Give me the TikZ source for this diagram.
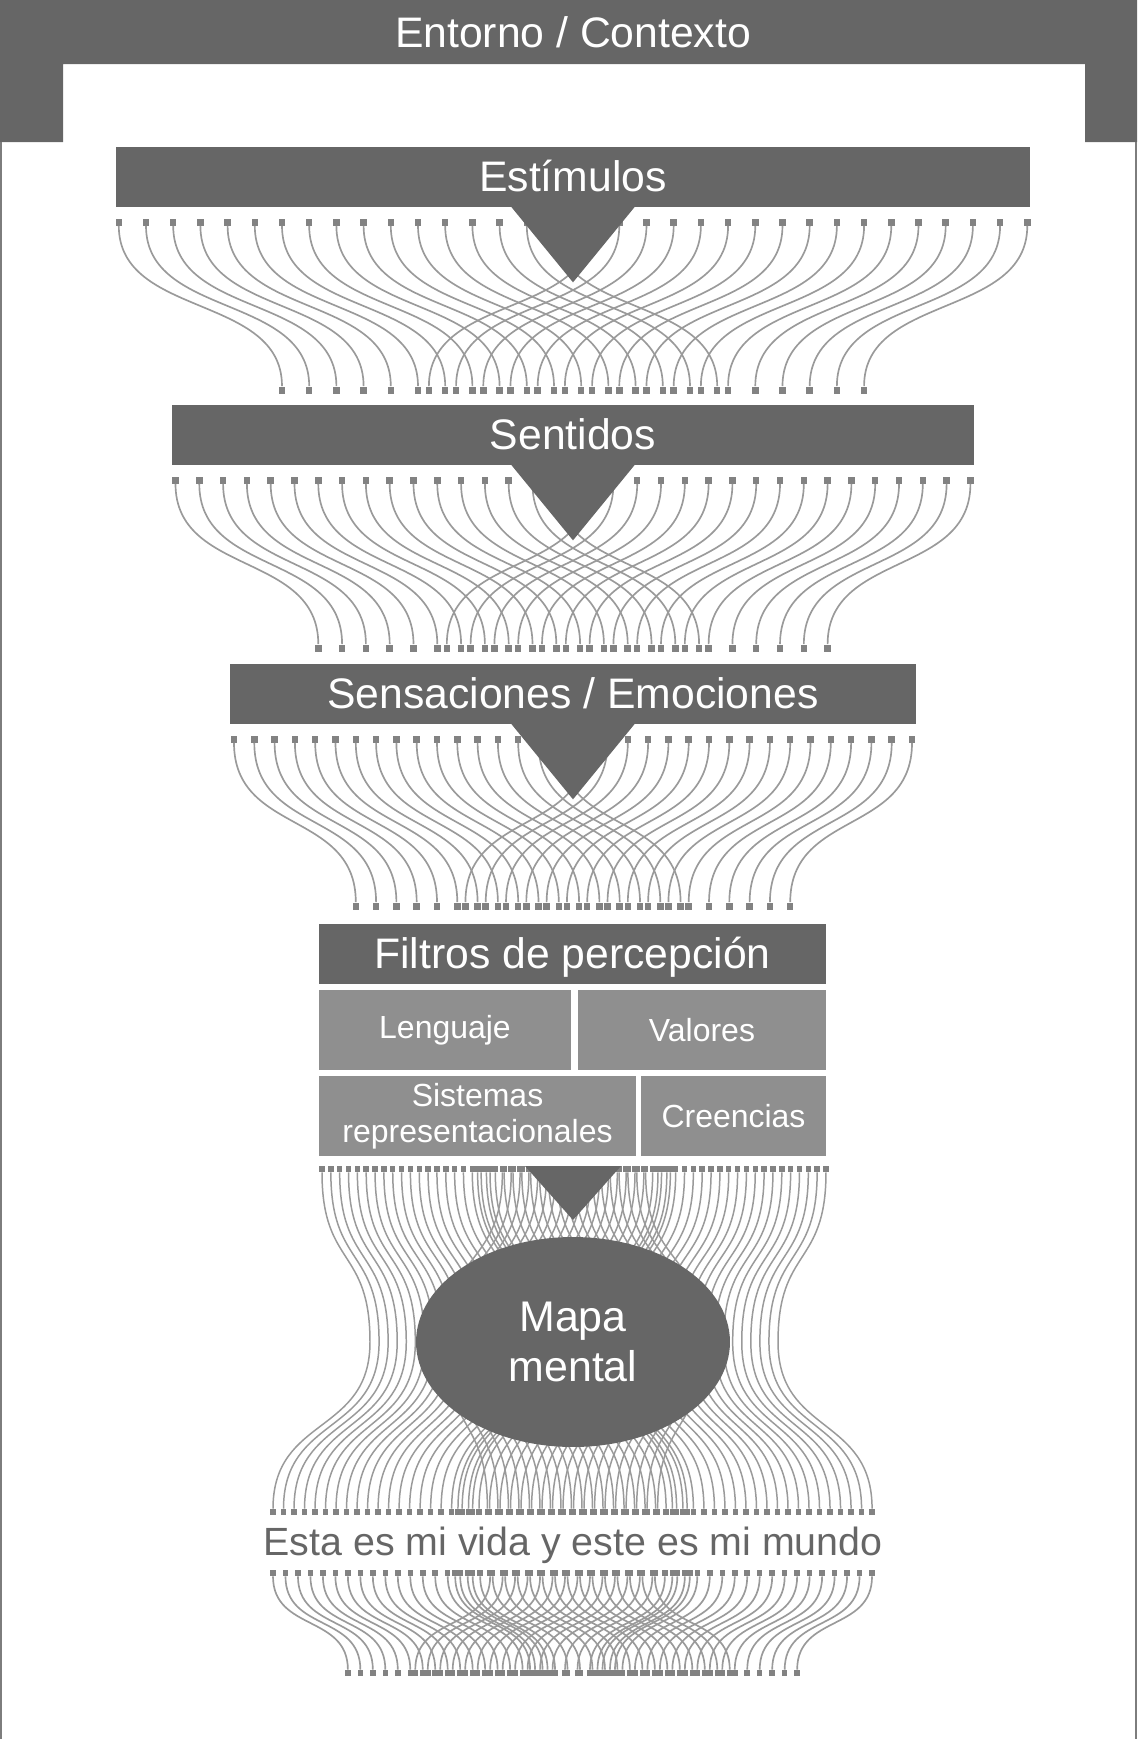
\documentclass[tikz,border=0pt]{standalone}
\usepackage{fontspec}
\setmainfont{Liberation Sans}
\usetikzlibrary{shapes.geometric}
\definecolor{bardark}{RGB}{102,102,102}
\definecolor{boxmid}{RGB}{143,143,143}
\definecolor{wiregrey}{RGB}{154,154,154}
\definecolor{termgrey}{RGB}{130,130,130}
\tikzset{
  titletext/.style={text=white, inner sep=0pt, text height=0.77cm, text depth=0.18cm,
                    font=\fontsize{24.3}{29}\selectfont},
  titlebar/.style={titletext, rectangle, fill=bardark, minimum height=1.2cm},
  subbox/.style={rectangle, fill=boxmid, text=white, inner sep=0pt, minimum height=1.6cm,
                 align=center, font=\fontsize{18.2}{20.3}\selectfont},
  term/.style={rectangle, fill=termgrey, inner sep=0pt, minimum width=1.3mm, minimum height=1.4mm},
  termsm/.style={term, minimum width=1.1mm, minimum height=1.2mm},
  wire/.style={draw=wiregrey, line width=0.95pt},
  wiresm/.style={wire, line width=0.85pt},
  rim/.style={draw=bardark!85, line width=1.1pt},
}
% one fan of 2x17 wires: name, first top x, step, top y, bottom y, copies (index/offset), terminal style
\newcommand{\fanbundle}[7]{%
  \foreach \c/\off in {#6}{
    \foreach \k in {0,...,33}{
      \pgfmathsetmacro{\rr}{(\k<17 ? \k : \k+0.4)+\off}
      \pgfmathsetmacro{\sh}{\k<17 ? 6 : -6}
      \node[#7] (#1-\c-\k-t) at ({#2+\rr*#3},#4) {};
      \node[#7] (#1-\c-\k-b) at ({#2+(\rr+\sh)*#3},#5) {};
      \draw[wire] (#1-\c-\k-t.south) .. controls +(0,{0.55*(#5-#4)}) and +(0,{-0.55*(#5-#4)}) .. (#1-\c-\k-b.north);
    }
  }
}

\begin{document}
\begin{tikzpicture}[x=0.02cm,y=-0.02cm]
\useasboundingbox (0,0) rectangle (1137,1739);

% frame
\fill[bardark] (0,0) -- (1137,0) -- (1137,142) -- (1085,142) -- (1085,64) -- (63,64) -- (63,142) -- (0,142) -- cycle;
\draw[rim] (1,142) -- (1,1739);
\draw[rim] (1136,142) -- (1136,1739);
\node[titletext] (entorno) at (573,33) {Entorno / Contexto};

% stages
\foreach \nm/\y/\w/\txt in {estimulos/177/18.3cm/{Estímulos},
  sentidos/435/16.04cm/{Sentidos}, sensaciones/694/13.72cm/{Sensaciones / Emociones}} {
  \node[titlebar, minimum width=\w] (\nm) at (573,\y) {\txt};
}

\fanbundle{sa}{118.8}{27.2}{222}{390}{0/0}{term}
\fanbundle{sb}{175.5}{23.8}{480}{648}{0/0}{term}
\fanbundle{sc}{234}{20.3}{739}{906}{0/0}{term}

\foreach \nm in {estimulos,sentidos,sensaciones}
  \fill[bardark] ([xshift=-1.26cm,yshift=0.04cm]\nm.south) -- ([xshift=1.26cm,yshift=0.04cm]\nm.south)
    -- ([yshift=-1.5cm]\nm.south) -- cycle;

% filters
\node[titlebar, minimum width=10.14cm] (filtros) at (572.5,954) {Filtros de percepción};
\node[subbox, minimum width=5.04cm] (lenguaje) at (445,1030) {Lenguaje};
\node[subbox, minimum width=4.96cm] (valores) at (702,1030) {Valores};
\node[subbox, minimum width=6.34cm] (sistemas) at (477.5,1116) {Sistemas\\representacionales};
\node[subbox, minimum width=3.7cm] (creencias) at (733.5,1116) {Creencias};

% hourglass round the mental map
\foreach \c/\off in {0/0,1/17.6}{
  \foreach \k in {0,...,39}{
    \pgfmathsetmacro{\rr}{(\k<20 ? \k : \k+0.4)+\off}
    \pgfmathsetmacro{\sh}{\k<20 ? 6 : -6}
    \node[termsm] (fm-\c-\k-t) at ({322+\rr*8.842},1169) {};
    \coordinate (fm-\c-\k-m) at ({370+(\rr+\sh-6)*9.067},1342);
    \node[termsm] (fm-\c-\k-b) at ({273+\rr*10.51},1512) {};
    \draw[wiresm] (fm-\c-\k-t.south) .. controls +(0,95) and +(0,-95) .. (fm-\c-\k-m)
      .. controls +(0,93) and +(0,-93) .. (fm-\c-\k-b.north);
  }
}
\fill[bardark] (525,1166) -- (621,1166) -- (573,1220) -- cycle;
\node[ellipse, fill=bardark, text=white, inner sep=0pt, minimum width=6.28cm, minimum height=4.2cm,
      align=center, font=\fontsize{24.4}{28.5}\selectfont] (mapa) at (573,1342) {Mapa\\mental};

\node[text=bardark, inner sep=0pt, font=\fontsize{22.4}{26}\selectfont] (vida) at (573,1545)
  {Esta es mi vida y este es mi mundo};

\fanbundle{sd}{273}{12.48}{1573}{1673}{0/0,1/14.6}{termsm}
\end{tikzpicture}
\end{document}
